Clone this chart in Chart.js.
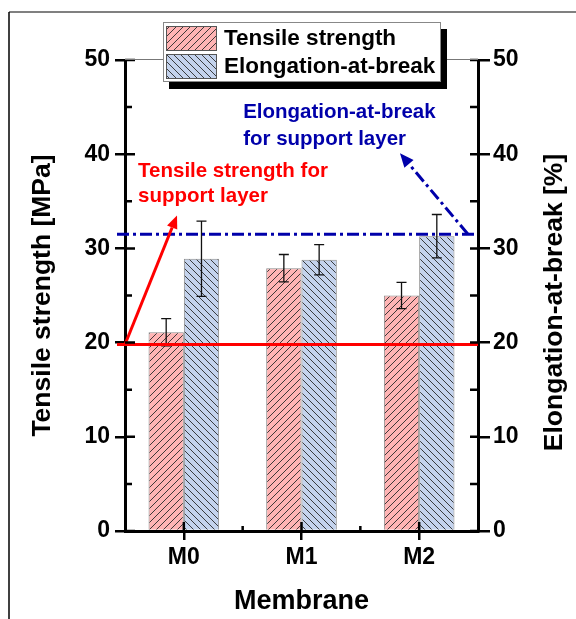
<!DOCTYPE html>
<html>
<head>
<meta charset="utf-8">
<script src="https://cdn.jsdelivr.net/npm/chart.js@4.4.0/dist/chart.umd.min.js"></script>
<style>
    html, body { margin: 0; padding: 0; background: #fff; }
    canvas { display: block; }
</style>
</head>
<body>
<canvas id="chart" width="576" height="619"></canvas>
<script>
// Dữ liệu
const membranes = ['M0', 'M1', 'M2'];
const tensileStrength = [21.1, 27.9, 25.0];
const tensileError = [1.45, 1.45, 1.4];
const elongation = [28.9, 28.8, 31.3];
const elongationError = [4.0, 1.6, 2.3];
const supportTensile = 19.8;
const supportElongation = 31.5;
const yTicks = [0, 10, 20, 30, 40, 50];
const yMinorTicks = [5, 15, 25, 35, 45];

const FONT = '"Liberation Sans", Arial, sans-serif';
const RED = '#ff0000';
const BLUE = '#0000aa';

const canvas = document.getElementById('chart');
const ctx = canvas.getContext('2d');

// Tạo mẫu gạch chéo cho cột
function hatch(bg, dir) {
    const c = document.createElement('canvas');
    c.width = c.height = 7;
    const g = c.getContext('2d');
    g.fillStyle = bg;
    g.fillRect(0, 0, 7, 7);
    g.strokeStyle = '#2a2a2a';
    g.lineWidth = 0.9;
    g.beginPath();
    if (dir === '/') {
        g.moveTo(0, 7); g.lineTo(7, 0);
        g.moveTo(-1, 1); g.lineTo(1, -1);
        g.moveTo(6, 8); g.lineTo(8, 6);
    } else {
        g.moveTo(0, 0); g.lineTo(7, 7);
        g.moveTo(6, -1); g.lineTo(8, 1);
        g.moveTo(-1, 6); g.lineTo(1, 8);
    }
    g.stroke();
    return ctx.createPattern(c, 'repeat');
}

const redHatch = hatch('#ffb4b4', '/');
const blueHatch = hatch('#c4d3ed', '\\');

// Mũi tên
function drawArrow(g, x1, y1, x2, y2, color, dash, headLen, headW) {
    const ang = Math.atan2(y2 - y1, x2 - x1);
    const bx = x2 - headLen * Math.cos(ang);
    const by = y2 - headLen * Math.sin(ang);
    g.save();
    g.strokeStyle = color;
    g.fillStyle = color;
    g.lineWidth = 3;
    g.setLineDash(dash);
    g.beginPath();
    g.moveTo(x1, y1);
    g.lineTo(bx, by);
    g.stroke();
    g.setLineDash([]);
    g.beginPath();
    g.moveTo(x2, y2);
    g.lineTo(bx + headW / 2 * Math.sin(ang), by - headW / 2 * Math.cos(ang));
    g.lineTo(bx - headW / 2 * Math.sin(ang), by + headW / 2 * Math.cos(ang));
    g.closePath();
    g.fill();
    g.restore();
}

const decorPlugin = {
    id: 'decor',
    beforeDraw(chart) {
        const g = chart.ctx;
        g.save();
        g.fillStyle = '#fff';
        g.fillRect(0, 0, chart.width, chart.height);
        // khung ngoài
        g.strokeStyle = '#808080';
        g.lineWidth = 2;
        g.beginPath();
        g.moveTo(9, 12); g.lineTo(chart.width, 12);
        g.stroke();
        g.strokeStyle = '#000';
        g.lineWidth = 1.5;
        g.beginPath();
        g.moveTo(9, 12); g.lineTo(9, chart.height);
        g.stroke();
        g.restore();
    },
    afterDatasetsDraw(chart) {
        const g = chart.ctx;
        const x = chart.scales.x;
        const y = chart.scales.y;
        const y1 = chart.scales.y1;
        const area = chart.chartArea;

        // thanh sai số
        const errs = [tensileError, elongationError];
        const vals = [tensileStrength, elongation];
        const scales = [y, y1];
        g.save();
        g.strokeStyle = '#111';
        g.lineWidth = 1.3;
        for (let d = 0; d < 2; d++) {
            chart.getDatasetMeta(d).data.forEach((bar, i) => {
                const top = scales[d].getPixelForValue(vals[d][i] + errs[d][i]);
                const bot = scales[d].getPixelForValue(vals[d][i] - errs[d][i]);
                g.beginPath();
                g.moveTo(bar.x, top); g.lineTo(bar.x, bot);
                g.moveTo(bar.x - 5, top); g.lineTo(bar.x + 5, top);
                g.moveTo(bar.x - 5, bot); g.lineTo(bar.x + 5, bot);
                g.stroke();
            });
        }
        g.restore();

        // đường tham chiếu của lớp đỡ
        g.save();
        g.lineWidth = 3;
        g.strokeStyle = RED;
        const yr = y.getPixelForValue(supportTensile);
        g.beginPath();
        g.moveTo(area.left - 8, yr); g.lineTo(area.right, yr);
        g.stroke();
        g.strokeStyle = BLUE;
        g.setLineDash([12, 4, 3, 4]);
        const yb = y1.getPixelForValue(supportElongation);
        g.beginPath();
        g.moveTo(area.left - 8, yb); g.lineTo(area.right, yb);
        g.stroke();
        g.restore();

        // mũi tên chú thích
        drawArrow(g, area.left, yr,
            x.getPixelForValue(-0.058), y.getPixelForValue(33.5), RED, [], 13, 11);
        drawArrow(g, x.getPixelForValue(2.415), yb,
            x.getPixelForValue(1.837), y1.getPixelForValue(40.1), BLUE, [12, 4, 3, 4], 14, 12);

        // chữ chú thích
        g.save();
        g.font = 'bold 20.5px ' + FONT;
        g.textAlign = 'left';
        g.textBaseline = 'middle';
        g.fillStyle = RED;
        const rx = x.getPixelForValue(-0.389);
        g.fillText('Tensile strength for', rx, y.getPixelForValue(38.2));
        g.fillText('support layer', rx, y.getPixelForValue(35.5));
        g.fillStyle = BLUE;
        const bx = x.getPixelForValue(0.504);
        g.fillText('Elongation-at-break', bx, y.getPixelForValue(44.4));
        g.fillText('for support layer', bx, y.getPixelForValue(41.6));
        g.restore();
    },
    afterDraw(chart) {
        const g = chart.ctx;
        const x = chart.scales.x;
        const y = chart.scales.y;
        const area = chart.chartArea;

        // vạch chia hướng vào trong
        g.save();
        g.strokeStyle = '#000';
        g.lineWidth = 2.5;
        g.beginPath();
        yTicks.forEach(v => {
            const p = y.getPixelForValue(v);
            g.moveTo(area.left, p); g.lineTo(area.left + 10, p);
            g.moveTo(area.right, p); g.lineTo(area.right - 8, p);
        });
        yMinorTicks.forEach(v => {
            const p = y.getPixelForValue(v);
            g.moveTo(area.left, p); g.lineTo(area.left + 7, p);
            g.moveTo(area.right, p); g.lineTo(area.right - 8, p);
        });
        membranes.forEach((m, i) => {
            const p = x.getPixelForValue(i);
            g.moveTo(p, area.bottom); g.lineTo(p, area.bottom - 9);
        });
        [0.5, 1.5].forEach(v => {
            const p = x.getPixelForValue(v);
            g.moveTo(p, area.bottom); g.lineTo(p, area.bottom - 5);
        });
        g.stroke();
        // đường viền trên
        g.strokeStyle = '#777';
        g.lineWidth = 1;
        g.beginPath();
        g.moveTo(area.left, area.top - 0.5); g.lineTo(area.right, area.top - 0.5);
        g.stroke();
        g.restore();

        // tiêu đề trục phải (xoay -90 độ)
        g.save();
        g.font = 'bold 26.5px ' + FONT;
        g.fillStyle = '#000';
        g.textAlign = 'center';
        g.textBaseline = 'middle';
        g.translate(555, (area.top + area.bottom) / 2 + 7);
        g.rotate(-Math.PI / 2);
        g.fillText('Elongation-at-break [%]', 0, 0);
        g.restore();

        // chú giải
        g.save();
        g.fillStyle = '#000';
        g.fillRect(169, 29, 278, 60);
        g.fillStyle = '#fff';
        g.fillRect(163, 22, 278, 60);
        g.strokeStyle = '#888';
        g.lineWidth = 1;
        g.strokeRect(163.5, 22.5, 277, 59);
        const items = [
            { label: chart.data.datasets[0].label, fill: redHatch, y: 26 },
            { label: chart.data.datasets[1].label, fill: blueHatch, y: 54 }
        ];
        g.font = 'bold 22.5px ' + FONT;
        g.textAlign = 'left';
        g.textBaseline = 'middle';
        items.forEach(it => {
            g.fillStyle = it.fill;
            g.fillRect(166, it.y, 51, 25);
            g.strokeStyle = '#555';
            g.strokeRect(166.5, it.y + 0.5, 50, 24);
            g.fillStyle = '#000';
            g.fillText(it.label, 224, it.y + 13);
        });
        g.restore();
    }
};

const config = {
    type: 'bar',
    data: {
        labels: membranes,
        datasets: [{
            label: 'Tensile strength',
            data: tensileStrength,
            backgroundColor: redHatch,
            borderColor: '#8a8a8a',
            borderWidth: 1,
            yAxisID: 'y'
        }, {
            label: 'Elongation-at-break',
            data: elongation,
            backgroundColor: blueHatch,
            borderColor: '#8a8a8a',
            borderWidth: 1,
            yAxisID: 'y1'
        }]
    },
    options: {
        responsive: false,
        animation: false,
        devicePixelRatio: 1,
        categoryPercentage: 0.6,
        barPercentage: 1.0,
        layout: { padding: { top: 60, left: 0, right: 0, bottom: 0 } },
        plugins: {
            legend: { display: false },
            tooltip: { enabled: false }
        },
        scales: {
            x: {
                z: 1,
                offset: true,
                afterFit: s => { s.height = 88; },
                grid: { drawOnChartArea: false, offset: false, tickLength: 9, lineWidth: 2.5, tickColor: '#000' },
                border: { color: '#000', width: 3 },
                ticks: { color: '#000', padding: 4, font: { family: FONT, size: 23, weight: 'bold' } },
                title: {
                    display: true, text: 'Membrane', color: '#000',
                    font: { family: FONT, size: 27, weight: 'bold' },
                    padding: { top: 0, bottom: 1 }
                }
            },
            y: {
                z: 1,
                position: 'left',
                min: 0, max: 50,
                afterFit: s => { s.width = 125; },
                afterBuildTicks: s => { s.ticks = yTicks.map(v => ({ value: v })); },
                grid: { drawOnChartArea: false, tickLength: 10, lineWidth: 2.5, tickColor: '#000' },
                border: { color: '#000', width: 3 },
                ticks: { color: '#000', padding: 5, font: { family: FONT, size: 23, weight: 'bold' } },
                title: {
                    display: true, text: 'Tensile strength [MPa]', color: '#000',
                    font: { family: FONT, size: 26.5, weight: 'bold' },
                    padding: { top: 27, bottom: 0 }
                }
            },
            y1: {
                z: 1,
                position: 'right',
                min: 0, max: 50,
                afterFit: s => { s.width = 98; },
                afterBuildTicks: s => { s.ticks = yTicks.map(v => ({ value: v })); },
                grid: { drawOnChartArea: false, tickLength: 12, lineWidth: 2.5, tickColor: '#000' },
                border: { color: '#000', width: 3 },
                ticks: { color: '#000', padding: 3, font: { family: FONT, size: 23, weight: 'bold' } },
                title: { display: false }
            }
        }
    },
    plugins: [decorPlugin]
};

const chart = new Chart(ctx, config);
</script>
</body>
</html>
